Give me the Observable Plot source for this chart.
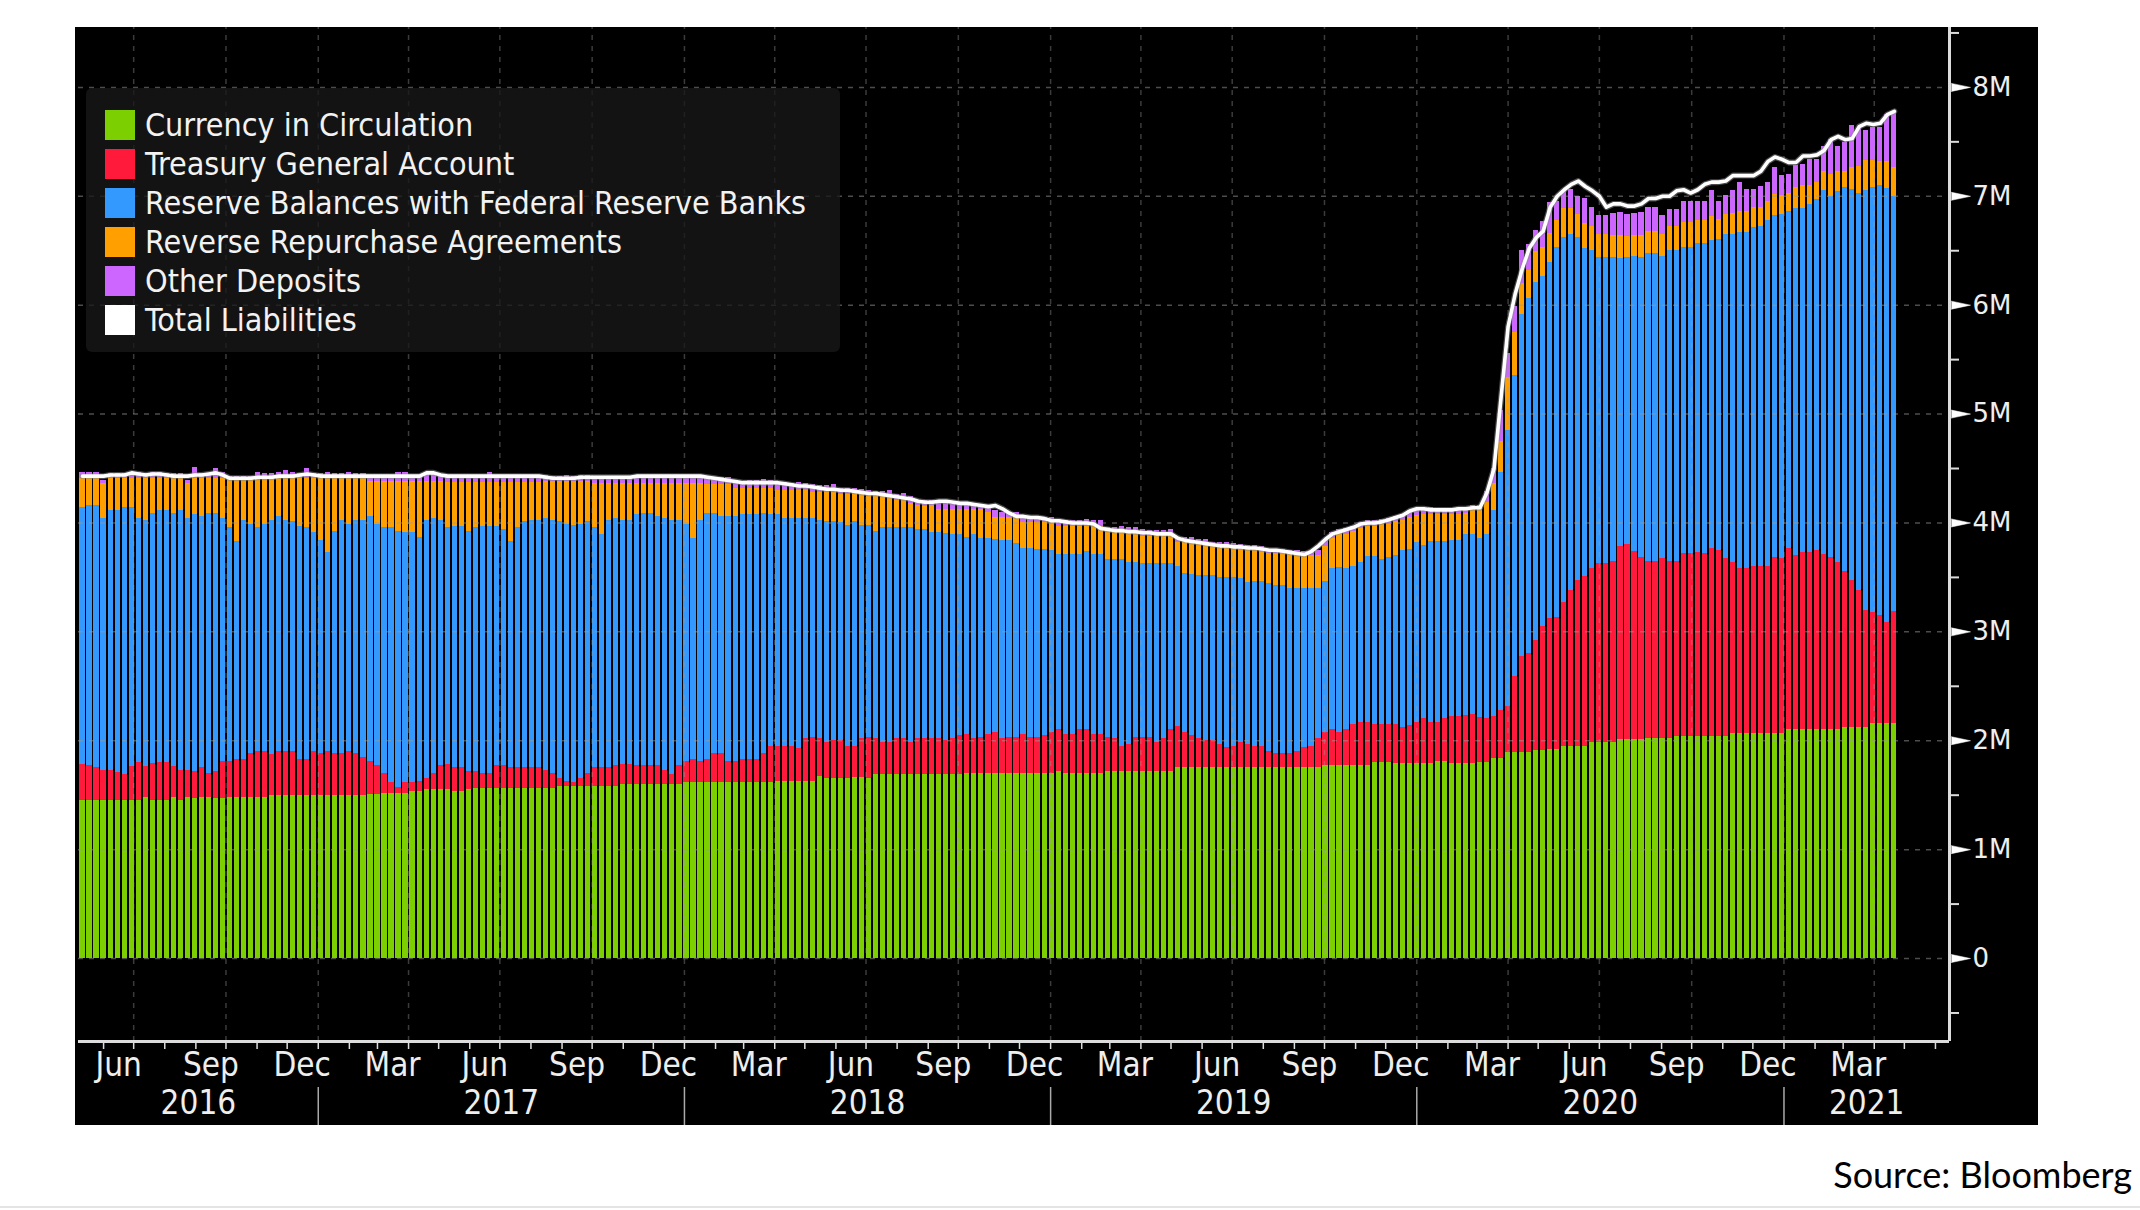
<!DOCTYPE html>
<html><head><meta charset="utf-8">
<script src="https://cdn.jsdelivr.net/npm/d3@7"></script>
<script src="https://cdn.jsdelivr.net/npm/@observablehq/plot@0.6"></script>
<style>
html,body{margin:0;padding:0;background:#fff;}
#page{position:relative;width:2140px;height:1210px;overflow:hidden;}
#chart{position:absolute;left:75px;top:27px;width:1963px;height:1098px;background:#000;}
#legend{position:absolute;left:86px;top:88px;width:754px;height:264px;background:rgba(24,24,24,0.78);border-radius:6px;}
.row{position:absolute;left:19px;height:30px;display:flex;align-items:center;color:#f2f2f2;font-size:32px;white-space:nowrap;font-family:"DejaVu Sans Condensed","Liberation Sans Narrow",sans-serif;}
.sw{width:30px;height:30px;margin-right:10px;flex:none;}
#source{position:absolute;right:8px;top:1152px;font-family:Lato,"Open Sans",sans-serif;font-size:36px;color:#000;}
#rule{position:absolute;left:0;top:1206px;width:2140px;height:2px;background:#e4e4e4;}
</style></head>
<body><div id="page"><div id="chart"></div><div id="legend"></div><div id="source">Source: Bloomberg</div><div id="rule"></div></div>
<script>
// ---------- data (values in M = millions of USD) ----------
const firstWeek = "2016-05-11"; // weekly observations (Wednesdays)
const seriesNames = ["Currency in Circulation","Treasury General Account","Reserve Balances with Federal Reserve Banks","Reverse Repurchase Agreements","Other Deposits"];
const seriesColors = ["#7ccf00","#ff1a3c","#3399fe","#ffa000","#cc66ff"];
const totalName = "Total Liabilities";
const yTicks = [0,1,2,3,4,5,6,7,8];
const monthLabelNames = ["Mar","Jun","Sep","Dec"];

const currency = [
1.45,1.45,1.45,1.45,1.45,1.45,1.45,1.45,1.45,1.48,1.45,1.45,1.45,1.48,1.45,1.48,1.47,1.48,1.48,1.47,
1.47,1.48,1.48,1.48,1.48,1.48,1.48,1.50,1.50,1.50,1.50,1.50,1.50,1.50,1.50,1.50,1.50,1.50,1.50,1.50,
1.50,1.51,1.51,1.52,1.52,1.52,1.52,1.53,1.53,1.55,1.55,1.55,1.55,1.53,1.53,1.55,1.56,1.56,1.56,1.56,
1.56,1.56,1.56,1.56,1.56,1.56,1.56,1.56,1.58,1.58,1.58,1.58,1.58,1.58,1.58,1.58,1.58,1.60,1.60,1.60,
1.60,1.60,1.60,1.60,1.60,1.60,1.62,1.62,1.62,1.62,1.62,1.62,1.62,1.62,1.62,1.62,1.62,1.62,1.62,1.63,
1.63,1.63,1.63,1.63,1.63,1.67,1.65,1.65,1.65,1.65,1.66,1.66,1.65,1.69,1.69,1.69,1.69,1.69,1.69,1.69,
1.69,1.69,1.69,1.69,1.69,1.69,1.70,1.70,1.70,1.70,1.70,1.70,1.70,1.70,1.70,1.70,1.70,1.70,1.70,1.72,
1.70,1.70,1.70,1.70,1.70,1.70,1.72,1.72,1.72,1.72,1.72,1.72,1.72,1.72,1.72,1.72,1.75,1.75,1.75,1.75,
1.75,1.75,1.75,1.75,1.75,1.75,1.75,1.75,1.75,1.75,1.75,1.75,1.75,1.75,1.75,1.75,1.75,1.77,1.77,1.77,
1.77,1.77,1.77,1.77,1.80,1.80,1.80,1.79,1.79,1.79,1.79,1.79,1.79,1.81,1.81,1.79,1.79,1.79,1.79,1.80,
1.80,1.84,1.84,1.89,1.89,1.89,1.89,1.91,1.91,1.92,1.92,1.95,1.95,1.95,1.95,1.98,1.98,1.98,1.98,2.01,
2.01,2.01,2.01,2.02,2.02,2.02,2.02,2.04,2.04,2.04,2.04,2.04,2.04,2.04,2.04,2.07,2.07,2.07,2.07,2.07,
2.07,2.07,2.07,2.10,2.10,2.10,2.10,2.10,2.10,2.10,2.10,2.12,2.12,2.12,2.12,2.16,2.16,2.16,2.16];

const tga = [
0.33,0.32,0.30,0.28,0.28,0.26,0.24,0.31,0.35,0.28,0.34,0.35,0.35,0.28,0.28,0.25,0.25,0.27,0.22,0.25,
0.34,0.33,0.35,0.35,0.40,0.42,0.42,0.37,0.40,0.40,0.40,0.33,0.33,0.40,0.38,0.40,0.38,0.38,0.40,0.38,
0.35,0.30,0.26,0.18,0.10,0.05,0.10,0.09,0.10,0.10,0.15,0.22,0.23,0.22,0.22,0.17,0.16,0.14,0.14,0.21,
0.21,0.19,0.19,0.19,0.19,0.19,0.17,0.14,0.07,0.05,0.04,0.07,0.12,0.17,0.17,0.17,0.19,0.18,0.18,0.17,
0.17,0.17,0.17,0.13,0.09,0.17,0.19,0.21,0.19,0.21,0.26,0.26,0.19,0.19,0.21,0.21,0.21,0.26,0.33,0.32,
0.32,0.32,0.30,0.39,0.40,0.35,0.33,0.35,0.35,0.30,0.29,0.36,0.38,0.33,0.29,0.29,0.33,0.33,0.29,0.33,
0.33,0.33,0.33,0.31,0.33,0.36,0.36,0.32,0.33,0.36,0.38,0.32,0.33,0.33,0.36,0.33,0.33,0.35,0.38,0.38,
0.36,0.36,0.40,0.40,0.36,0.36,0.31,0.30,0.23,0.25,0.31,0.31,0.31,0.26,0.30,0.38,0.38,0.33,0.30,0.27,
0.25,0.25,0.22,0.19,0.20,0.23,0.22,0.20,0.20,0.15,0.13,0.13,0.13,0.15,0.19,0.20,0.27,0.31,0.33,0.31,
0.33,0.38,0.40,0.40,0.35,0.35,0.35,0.36,0.33,0.35,0.38,0.41,0.38,0.36,0.39,0.43,0.43,0.44,0.45,0.41,
0.40,0.38,0.44,0.42,0.70,0.88,0.91,1.01,1.14,1.20,1.21,1.32,1.43,1.52,1.56,1.60,1.65,1.65,1.67,1.77,
1.79,1.73,1.67,1.63,1.63,1.65,1.63,1.61,1.68,1.68,1.69,1.68,1.73,1.71,1.63,1.57,1.51,1.51,1.53,1.53,
1.53,1.61,1.60,1.67,1.60,1.63,1.63,1.65,1.61,1.58,1.54,1.43,1.35,1.26,1.08,1.02,0.99,0.93,1.03];

const reserves = [
2.36,2.39,2.41,2.31,2.38,2.40,2.45,2.38,2.24,2.26,2.30,2.31,2.31,2.33,2.38,2.31,2.36,2.31,2.39,2.37,
2.23,2.15,2.00,2.19,2.11,2.06,2.09,2.15,2.16,2.12,2.11,2.14,2.13,2.01,1.96,1.83,2.04,2.14,2.09,2.14,
2.17,2.25,2.22,2.26,2.34,2.35,2.29,2.29,2.24,2.37,2.34,2.25,2.18,2.22,2.22,2.20,2.24,2.27,2.27,2.20,
2.17,2.08,2.21,2.26,2.27,2.27,2.31,2.32,2.36,2.36,2.36,2.34,2.31,2.21,2.14,2.27,2.27,2.24,2.24,2.31,
2.32,2.32,2.29,2.31,2.33,2.25,2.18,2.03,2.21,2.26,2.21,2.18,2.25,2.25,2.25,2.25,2.25,2.21,2.13,2.13,
2.09,2.09,2.11,2.02,2.01,2.00,2.03,2.01,2.00,2.03,2.06,1.96,1.95,1.90,1.98,1.98,1.94,1.94,1.98,1.92,
1.92,1.89,1.89,1.90,1.87,1.84,1.81,1.87,1.83,1.80,1.77,1.82,1.81,1.78,1.71,1.74,1.73,1.71,1.67,1.61,
1.65,1.65,1.61,1.64,1.65,1.65,1.63,1.64,1.71,1.67,1.61,1.60,1.60,1.65,1.61,1.53,1.47,1.46,1.48,1.50,
1.52,1.52,1.53,1.56,1.55,1.51,1.48,1.51,1.51,1.54,1.55,1.55,1.52,1.50,1.46,1.45,1.38,1.38,1.48,1.51,
1.48,1.45,1.47,1.52,1.54,1.51,1.53,1.55,1.63,1.62,1.65,1.59,1.66,1.66,1.63,1.62,1.62,1.66,1.65,1.65,
1.69,1.89,2.18,2.54,2.76,3.14,3.26,3.29,3.21,3.27,3.40,3.35,3.27,3.15,3.01,2.92,2.81,2.81,2.79,2.65,
2.64,2.71,2.76,2.82,2.82,2.78,2.85,2.85,2.81,2.81,2.84,2.85,2.82,2.85,2.98,3.01,3.09,3.09,3.11,3.12,
3.18,3.14,3.16,3.09,3.19,3.16,3.19,3.22,3.34,3.32,3.40,3.53,3.59,3.65,3.85,3.90,3.95,3.98,3.81];

const rrp = [
0.27,0.25,0.25,0.32,0.30,0.30,0.27,0.27,0.37,0.39,0.32,0.30,0.30,0.32,0.30,0.32,0.33,0.35,0.32,0.32,
0.37,0.43,0.56,0.37,0.40,0.45,0.42,0.39,0.35,0.39,0.40,0.44,0.45,0.50,0.57,0.68,0.49,0.39,0.42,0.39,
0.39,0.32,0.39,0.42,0.42,0.46,0.47,0.47,0.51,0.36,0.34,0.36,0.41,0.40,0.40,0.45,0.41,0.40,0.40,0.40,
0.43,0.54,0.41,0.36,0.35,0.35,0.34,0.36,0.37,0.39,0.40,0.39,0.37,0.40,0.47,0.34,0.32,0.34,0.34,0.28,
0.27,0.27,0.30,0.32,0.34,0.34,0.37,0.50,0.34,0.26,0.26,0.29,0.29,0.26,0.24,0.24,0.24,0.23,0.24,0.22,
0.26,0.26,0.26,0.26,0.24,0.26,0.27,0.27,0.26,0.28,0.25,0.28,0.26,0.32,0.28,0.28,0.25,0.25,0.22,0.22,
0.21,0.25,0.21,0.22,0.23,0.23,0.25,0.23,0.26,0.24,0.20,0.21,0.21,0.24,0.23,0.23,0.24,0.24,0.25,0.26,
0.26,0.26,0.26,0.23,0.26,0.26,0.25,0.25,0.25,0.27,0.27,0.25,0.25,0.25,0.25,0.25,0.22,0.28,0.29,0.29,
0.29,0.26,0.28,0.28,0.27,0.27,0.30,0.29,0.28,0.28,0.29,0.29,0.31,0.31,0.30,0.30,0.30,0.32,0.28,0.30,
0.31,0.32,0.31,0.28,0.28,0.33,0.31,0.31,0.27,0.29,0.25,0.29,0.25,0.25,0.25,0.24,0.24,0.20,0.23,0.26,
0.30,0.25,0.29,0.49,0.40,0.29,0.26,0.28,0.27,0.27,0.25,0.27,0.24,0.21,0.23,0.22,0.21,0.21,0.20,0.21,
0.19,0.19,0.20,0.21,0.21,0.20,0.22,0.22,0.23,0.23,0.21,0.21,0.22,0.19,0.18,0.19,0.19,0.19,0.19,0.18,
0.17,0.20,0.18,0.17,0.19,0.21,0.18,0.16,0.18,0.20,0.19,0.15,0.20,0.24,0.28,0.25,0.22,0.25,0.26];

const otherDeposits = [
0.05,0.05,0.05,0.03,0.04,0.04,0.04,0.05,0.05,0.04,0.05,0.05,0.04,0.04,0.04,0.03,0.10,0.04,0.04,0.09,
0.05,0.04,0.04,0.04,0.04,0.05,0.04,0.04,0.05,0.07,0.05,0.04,0.09,0.04,0.04,0.05,0.04,0.04,0.05,0.04,
0.04,0.06,0.06,0.06,0.06,0.08,0.08,0.06,0.06,0.08,0.08,0.06,0.06,0.06,0.05,0.06,0.06,0.06,0.09,0.06,
0.06,0.06,0.06,0.05,0.06,0.06,0.06,0.05,0.05,0.06,0.05,0.06,0.06,0.06,0.06,0.07,0.06,0.07,0.06,0.07,
0.07,0.08,0.08,0.07,0.08,0.08,0.07,0.08,0.07,0.07,0.07,0.07,0.07,0.07,0.06,0.07,0.07,0.08,0.07,0.07,
0.07,0.06,0.07,0.06,0.07,0.06,0.06,0.07,0.06,0.06,0.06,0.05,0.06,0.05,0.05,0.06,0.05,0.06,0.06,0.05,
0.06,0.05,0.06,0.06,0.05,0.06,0.05,0.06,0.05,0.05,0.06,0.05,0.05,0.05,0.06,0.05,0.05,0.05,0.05,0.06,
0.05,0.05,0.05,0.06,0.05,0.05,0.05,0.05,0.06,0.05,0.05,0.06,0.05,0.05,0.05,0.06,0.05,0.05,0.05,0.04,
0.04,0.04,0.04,0.04,0.04,0.04,0.04,0.04,0.04,0.04,0.04,0.04,0.04,0.04,0.04,0.04,0.05,0.06,0.05,0.05,
0.06,0.05,0.05,0.05,0.05,0.04,0.05,0.05,0.06,0.06,0.06,0.05,0.06,0.05,0.05,0.05,0.06,0.05,0.04,0.04,
0.10,0.14,0.28,0.22,0.24,0.30,0.24,0.20,0.24,0.28,0.17,0.15,0.17,0.17,0.23,0.18,0.17,0.17,0.20,0.21,
0.20,0.20,0.21,0.22,0.22,0.17,0.16,0.16,0.19,0.19,0.17,0.17,0.24,0.16,0.18,0.21,0.27,0.20,0.16,0.19,
0.18,0.24,0.18,0.17,0.20,0.19,0.24,0.21,0.23,0.32,0.23,0.26,0.39,0.35,0.27,0.30,0.31,0.43,0.52];

const totalLiabilities = [
4.43,4.43,4.43,4.43,4.44,4.44,4.44,4.46,4.45,4.44,4.45,4.45,4.44,4.43,4.43,4.43,4.44,4.44,4.45,4.46,
4.44,4.41,4.41,4.41,4.41,4.42,4.42,4.42,4.43,4.43,4.43,4.44,4.45,4.44,4.43,4.43,4.43,4.43,4.43,4.43,
4.43,4.43,4.43,4.43,4.43,4.43,4.43,4.43,4.43,4.46,4.46,4.44,4.43,4.43,4.43,4.43,4.43,4.43,4.43,4.43,
4.43,4.43,4.43,4.43,4.43,4.43,4.42,4.41,4.41,4.41,4.41,4.42,4.42,4.42,4.42,4.42,4.42,4.42,4.42,4.43,
4.43,4.43,4.43,4.43,4.43,4.43,4.43,4.43,4.43,4.42,4.41,4.40,4.39,4.38,4.37,4.37,4.37,4.37,4.37,4.37,
4.36,4.35,4.34,4.34,4.33,4.32,4.31,4.31,4.30,4.30,4.29,4.28,4.27,4.27,4.26,4.25,4.24,4.23,4.22,4.20,
4.19,4.19,4.20,4.20,4.19,4.18,4.18,4.17,4.16,4.15,4.16,4.13,4.09,4.06,4.06,4.05,4.05,4.04,4.02,4.02,
4.01,4.00,4.00,4.00,3.99,3.95,3.94,3.93,3.93,3.92,3.92,3.91,3.91,3.90,3.90,3.90,3.86,3.84,3.83,3.82,
3.81,3.80,3.79,3.79,3.78,3.78,3.77,3.77,3.76,3.75,3.75,3.74,3.73,3.72,3.71,3.74,3.79,3.85,3.90,3.92,
3.94,3.96,3.99,4.00,4.00,4.01,4.03,4.05,4.07,4.11,4.13,4.13,4.12,4.12,4.12,4.12,4.13,4.13,4.14,4.14,
4.28,4.50,5.15,5.80,6.10,6.33,6.52,6.62,6.68,6.90,7.00,7.06,7.11,7.14,7.09,7.05,7.00,6.90,6.93,6.93,
6.91,6.91,6.93,6.98,6.98,7.00,7.00,7.05,7.06,7.03,7.06,7.11,7.13,7.13,7.14,7.19,7.19,7.19,7.19,7.23,
7.32,7.36,7.34,7.31,7.31,7.37,7.37,7.38,7.42,7.52,7.55,7.52,7.53,7.64,7.67,7.66,7.67,7.75,7.78];

// ---------- build ----------
const seriesValues = [currency, tga, reserves, rrp, otherDeposits];
const n = currency.length;
const dates = d3.range(n).map(i => d3.utcWeek.offset(new Date(firstWeek), i));
const stacked = [];
dates.forEach((d, i) => {
  let acc = 0;
  seriesValues.forEach((arr, k) => {
    stacked.push({date: d, series: seriesNames[k], y1: acc, y2: acc + arr[i]});
    acc += arr[i];
  });
});
const totalRows = dates.map((d, i) => ({date: d, value: totalLiabilities[i]}));

const xDomain = [new Date("2016-05-07"), new Date("2021-06-15")];
const yDomain = [-0.762, 8.55];
const condensed = '"DejaVu Sans Condensed","Liberation Sans Narrow",sans-serif';

const monthStarts = d3.utcMonth.range(d3.utcMonth.ceil(xDomain[0]), xDomain[1]);
const quarterStarts = monthStarts.filter(d => d.getUTCMonth() % 3 === 0);
const monthLabels = d3.utcMonth.range(d3.utcMonth.floor(xDomain[0]), xDomain[1])
  .filter(d => monthLabelNames.includes(d3.utcFormat("%b")(d)))
  .map(d => ({date: d3.utcDay.offset(d, 15), label: d3.utcFormat("%b")(d)}))
  .filter(d => d.date > xDomain[0] && d.date < xDomain[1]);
const yearStarts = d3.utcYear.range(d3.utcYear.ceil(xDomain[0]), xDomain[1]);
const yearLabels = d3.range(2016, 2022).map(y => {
  const a = new Date(Math.max(Date.UTC(y, 0, 1), +xDomain[0]));
  const b = new Date(Math.min(Date.UTC(y + 1, 0, 1), +xDomain[1]));
  return {date: new Date((+a + +b) / 2), label: String(y)};
});
const minorTicks = d3.range(-0.5, 8.6, 0.5).filter(v => v % 1 !== 0);

const wedge = {draw(ctx, l, r) { ctx.moveTo(0, -r); ctx.lineTo(l, 0); ctx.lineTo(0, r); ctx.closePath(); }};

const chart = Plot.plot({
  width: 1963, height: 1098,
  marginLeft: 3, marginRight: 89, marginTop: 0, marginBottom: 84,
  style: {background: "#000", color: "#eee", overflow: "visible"},
  x: {type: "utc", domain: xDomain, axis: null},
  y: {domain: yDomain, axis: null},
  color: {domain: seriesNames, range: seriesColors},
  marks: [
    Plot.rect(stacked, {
      x1: d => d3.utcHour.offset(d.date, -62), x2: d => d3.utcHour.offset(d.date, 62),
      y1: "y1", y2: "y2", fill: "series", shapeRendering: "crispEdges"
    }),
    Plot.ruleY(yTicks, {stroke: "#9a9a9a", strokeOpacity: 0.5, strokeWidth: 1.5, strokeDasharray: "5,6"}),
    Plot.ruleX(quarterStarts, {y1: yDomain[0], y2: yDomain[1], stroke: "#9a9a9a", strokeOpacity: 0.38, strokeWidth: 1.5, strokeDasharray: "5,6"}),
    Plot.line(totalRows, {x: "date", y: "value", stroke: "#888", strokeWidth: 6, strokeOpacity: 0.55}),
    Plot.line(totalRows, {x: "date", y: "value", stroke: "#fff", strokeWidth: 3.6}),
    // right y axis
    Plot.ruleX([xDomain[1]], {y1: yDomain[0], y2: yDomain[1], stroke: "#dcdcdc", strokeWidth: 3}),
    Plot.axisY({anchor: "right", ticks: minorTicks, tickSize: 9, tickFormat: () => "", stroke: "#dcdcdc", strokeWidth: 2}),
    Plot.vector(yTicks, {y: d => d, frameAnchor: "right", dx: 2, rotate: 0, length: 19, anchor: "start", shape: wedge, r: 4, fill: "#fff", stroke: "#fff", strokeWidth: 0.5}),
    Plot.axisY({anchor: "right", ticks: yTicks, tickSize: 0, tickPadding: 23, tickFormat: d => d === 0 ? "0" : d + "M", fontSize: 26, fontFamily: "DejaVu Sans", fill: "#eee"}),
    // bottom x axis
    Plot.ruleY([yDomain[0]], {stroke: "#dcdcdc", strokeWidth: 3}),
    Plot.axisX({ticks: monthStarts, tickSize: 8, tickFormat: () => "", stroke: "#dcdcdc", strokeWidth: 1.5}),
    Plot.text(monthLabels, {x: "date", text: "label", frameAnchor: "bottom", dy: 34, fontSize: 33, fontFamily: condensed, fill: "#eee"}),
    Plot.axisX({ticks: yearStarts, tickSize: 38, dy: 46, tickFormat: () => "", stroke: "#aaa", strokeWidth: 1.5}),
    Plot.text(yearLabels, {x: "date", text: "label", frameAnchor: "bottom", dy: 72, fontSize: 33, fontFamily: condensed, fill: "#eee"})
  ]
});
document.getElementById("chart").appendChild(chart);

// legend
const legend = document.getElementById("legend");
[...seriesNames, totalName].forEach((name, i) => {
  const row = document.createElement("div");
  row.className = "row";
  row.style.top = (22 + i * 39) + "px";
  const sw = document.createElement("div");
  sw.className = "sw";
  sw.style.background = i < seriesColors.length ? seriesColors[i] : "#fff";
  const t = document.createElement("span");
  t.textContent = name;
  row.appendChild(sw); row.appendChild(t);
  legend.appendChild(row);
});
</script>
</body></html>
